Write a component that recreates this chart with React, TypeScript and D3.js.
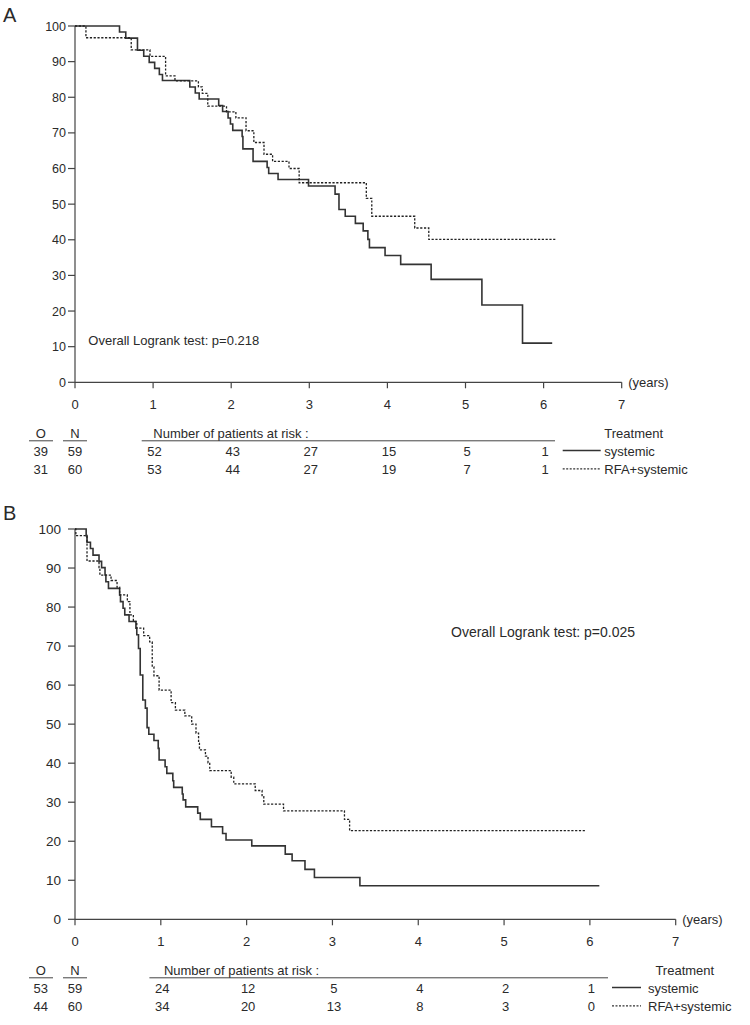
import React from 'react';
import * as d3 from 'd3';

// ---------- data ----------
const yearTicks = [0, 1, 2, 3, 4, 5, 6, 7];
const survivalTicks = [0, 10, 20, 30, 40, 50, 60, 70, 80, 90, 100];
const riskYears = [1, 2, 3, 4, 5, 6];
const groupNames = ['systemic', 'RFA+systemic'];

// Panel A (KM step points: time in years, survival %)
const aSystemicTimes = [0, 0.57, 0.65, 0.80, 0.88, 0.95, 1.02, 1.08, 1.12, 1.47, 1.54, 1.59, 1.84, 1.89, 1.96, 1.99, 2.02, 2.14, 2.15, 2.28, 2.46, 2.48, 2.60, 2.99, 3.33, 3.38, 3.46, 3.59, 3.69, 3.75, 3.77, 3.97, 4.17, 4.56, 5.21, 5.73];
const aSystemicSurv = [100, 98.3, 96.6, 93.2, 91.5, 89.8, 88.1, 86.4, 84.7, 82.9, 81.2, 79.5, 77.7, 76.0, 74.2, 72.5, 70.7, 69.0, 65.5, 62.0, 60.3, 58.6, 56.9, 55.1, 52.8, 48.5, 46.6, 44.6, 42.5, 40.1, 37.8, 35.6, 33.1, 28.9, 21.7, 11.0];
const aSystemicEnd = 6.11;

const aRfaTimes = [0, 0.14, 0.72, 0.96, 1.16, 1.28, 1.58, 1.63, 1.70, 1.94, 2.06, 2.19, 2.29, 2.42, 2.53, 2.74, 2.87, 3.73, 3.80, 4.35, 4.53];
const aRfaSurv = [100, 96.7, 93.3, 91.5, 86.0, 84.6, 82.9, 81.1, 77.5, 75.9, 74.2, 70.6, 67.3, 64.0, 62.0, 60.0, 56.0, 51.6, 46.6, 43.3, 40.1];
const aRfaEnd = 6.15;

// Panel B
const bSystemicTimes = [0, 0.13, 0.14, 0.18, 0.21, 0.28, 0.31, 0.35, 0.36, 0.39, 0.52, 0.53, 0.56, 0.58, 0.63, 0.71, 0.72, 0.74, 0.76, 0.79, 0.82, 0.84, 0.86, 0.92, 0.97, 0.98, 1.05, 1.07, 1.14, 1.15, 1.25, 1.26, 1.29, 1.43, 1.46, 1.59, 1.72, 1.76, 2.06, 2.45, 2.53, 2.68, 2.79, 3.32];
const bSystemicSurv = [100, 98.3, 96.6, 95.0, 93.3, 91.7, 90.1, 88.2, 86.5, 84.8, 83.1, 81.4, 79.7, 78.0, 76.3, 74.6, 72.9, 69.4, 62.6, 56.2, 54.1, 49.1, 47.4, 45.8, 43.8, 40.8, 39.1, 37.4, 35.5, 33.8, 32.1, 30.6, 28.8, 27.2, 25.6, 23.7, 22.0, 20.3, 18.8, 16.7, 15.0, 12.8, 10.7, 8.6];
const bSystemicEnd = 6.11;

const bRfaTimes = [0, 0.01, 0.14, 0.28, 0.29, 0.42, 0.49, 0.52, 0.61, 0.64, 0.68, 0.72, 0.80, 0.87, 0.90, 0.92, 0.98, 1.12, 1.17, 1.28, 1.36, 1.41, 1.44, 1.45, 1.52, 1.55, 1.57, 1.82, 1.85, 2.10, 2.18, 2.20, 2.43, 3.14, 3.20];
const bRfaSurv = [100, 98.3, 91.8, 90.1, 88.2, 86.8, 85.1, 83.1, 81.4, 78.0, 76.3, 74.6, 72.7, 71.1, 64.7, 62.4, 58.7, 55.5, 53.6, 52.1, 50.0, 47.7, 45.1, 43.4, 41.8, 40.1, 38.1, 36.4, 34.7, 33.0, 31.4, 29.5, 27.8, 25.6, 22.7];
const bRfaEnd = 5.95;

// Risk tables
const aObserved = [39, 31];
const aTotal = [59, 60];
const aRiskSystemic = [52, 43, 27, 15, 5, 1];
const aRiskRfa = [53, 44, 27, 19, 7, 1];

const bObserved = [53, 44];
const bTotal = [59, 60];
const bRiskSystemic = [24, 12, 5, 4, 2, 1];
const bRiskRfa = [34, 20, 13, 8, 3, 0];

const pTexts = ['Overall Logrank test: p=0.218', 'Overall Logrank test: p=0.025'];

// ---------- layout ----------
const FONT = "'Liberation Sans', Arial, Helvetica, sans-serif";
const INK = '#2a2a2a';

type Series = { times: number[]; surv: number[]; end: number; dashed: boolean };

type PanelProps = {
  letter: string;
  letterY: number;
  xRange: [number, number];
  yRange: [number, number];
  yLabelX: number;
  yLabelSize: number;
  pText: string;
  pX: number;
  pY: number;
  pSize: number;
  series: Series[];
  observed: number[];
  total: number[];
  risk: number[][];
  ulStart: number;
  ulEnd: number;
  nprX: number;
  legX1: number;
  legX2: number;
  legTextX: number;
  treatX: number;
};

function Panel(p: PanelProps) {
  const x = d3.scaleLinear().domain([0, 7]).range(p.xRange);
  const y = d3.scaleLinear().domain([0, 100]).range(p.yRange);
  const axisY = p.yRange[0];
  const line = d3
    .line<[number, number]>()
    .x((d) => x(d[0]))
    .y((d) => y(d[1]))
    .curve(d3.curveStepAfter);

  const tickLabelY = axisY + 27;
  const headerY = axisY + 56;
  const ulY = axisY + 58.5;
  const rowY = [axisY + 73.7, axisY + 92];

  return (
    <g fontFamily={FONT} fill={INK}>
      <text x={3} y={p.letterY} fontSize={20}>{p.letter}</text>

      {/* y axis */}
      <line x1={x(0)} x2={x(0)} y1={y(0)} y2={y(100)} stroke="#444" strokeWidth={1.2} />
      {survivalTicks.map((t) => (
        <g key={'yt' + t}>
          <line x1={x(0) - 7} x2={x(0)} y1={y(t)} y2={y(t)} stroke="#444" strokeWidth={1.2} />
          <text x={p.yLabelX} y={y(t) + 4.5} fontSize={p.yLabelSize} textAnchor="end">{t}</text>
        </g>
      ))}

      {/* x axis */}
      <line x1={x(0)} x2={x(7)} y1={axisY} y2={axisY} stroke="#444" strokeWidth={1.2} />
      {yearTicks.map((t) => (
        <g key={'xt' + t}>
          <line x1={x(t)} x2={x(t)} y1={axisY} y2={axisY + 6} stroke="#444" strokeWidth={1.2} />
          <text x={x(t)} y={tickLabelY} fontSize={13} textAnchor="middle">{t}</text>
        </g>
      ))}
      <text x={x(7) + 6.5} y={axisY + 5} fontSize={13}>(years)</text>

      {/* curves */}
      {p.series.map((s, i) => {
        const pts: [number, number][] = s.times.map((t, j) => [t, s.surv[j]]);
        pts.push([s.end, s.surv[s.surv.length - 1]]);
        return (
          <path
            key={'c' + i}
            d={line(pts) || ''}
            fill="none"
            stroke={s.dashed ? '#222' : '#333'}
            strokeWidth={s.dashed ? 1.3 : 1.6}
            strokeDasharray={s.dashed ? '2.2,1.6' : undefined}
          />
        );
      })}

      <text x={p.pX} y={p.pY} fontSize={p.pSize}>{p.pText}</text>

      {/* risk table */}
      <text x={40.7} y={headerY} fontSize={13} textAnchor="middle">O</text>
      <line x1={29} x2={53} y1={ulY} y2={ulY} stroke="#444" strokeWidth={1} />
      <text x={75} y={headerY} fontSize={13} textAnchor="middle">N</text>
      <line x1={63} x2={87} y1={ulY} y2={ulY} stroke="#444" strokeWidth={1} />
      <text x={p.nprX} y={headerY} fontSize={13}>Number of patients at risk :</text>
      <line x1={p.ulStart} x2={p.ulEnd} y1={ulY} y2={ulY} stroke="#444" strokeWidth={1} />
      <text x={p.treatX} y={headerY} fontSize={13}>Treatment</text>

      {[0, 1].map((g) => (
        <g key={'row' + g}>
          <text x={40.7} y={rowY[g]} fontSize={13} textAnchor="middle">{p.observed[g]}</text>
          <text x={75} y={rowY[g]} fontSize={13} textAnchor="middle">{p.total[g]}</text>
          {riskYears.map((yr, k) => (
            <text key={'r' + yr} x={x(yr) + 1.5} y={rowY[g]} fontSize={13} textAnchor="middle">
              {p.risk[g][k]}
            </text>
          ))}
          <line
            x1={p.legX1}
            x2={p.legX2}
            y1={rowY[g] - 5.5}
            y2={rowY[g] - 5.5}
            stroke="#333"
            strokeWidth={g === 0 ? 1.5 : 1.2}
            strokeDasharray={g === 1 ? '2,1.5' : undefined}
          />
          <text x={p.legTextX} y={rowY[g]} fontSize={13}>{groupNames[g]}</text>
        </g>
      ))}
    </g>
  );
}

export default function App() {
  return (
    <svg
      width={750}
      height={1025}
      viewBox="0 0 750 1025"
      style={{ position: 'absolute', left: 0, top: 0, background: '#fff' }}
    >
      <rect x={0} y={0} width={750} height={1025} fill="#fff" />
      <Panel
        letter="A"
        letterY={22}
        xRange={[75, 621.7]}
        yRange={[382.3, 26]}
        yLabelX={66}
        yLabelSize={12.5}
        pText={pTexts[0]}
        pX={88.3}
        pY={344.5}
        pSize={13}
        series={[
          { times: aSystemicTimes, surv: aSystemicSurv, end: aSystemicEnd, dashed: false },
          { times: aRfaTimes, surv: aRfaSurv, end: aRfaEnd, dashed: true },
        ]}
        observed={aObserved}
        total={aTotal}
        risk={[aRiskSystemic, aRiskRfa]}
        ulStart={141.7}
        ulEnd={555}
        nprX={153.3}
        legX1={562.7}
        legX2={600.7}
        legTextX={604.3}
        treatX={604.3}
      />
      <Panel
        letter="B"
        letterY={520}
        xRange={[75, 675.7]}
        yRange={[919.3, 529]}
        yLabelX={61}
        yLabelSize={13.5}
        pText={pTexts[1]}
        pX={451}
        pY={637}
        pSize={14}
        series={[
          { times: bSystemicTimes, surv: bSystemicSurv, end: bSystemicEnd, dashed: false },
          { times: bRfaTimes, surv: bRfaSurv, end: bRfaEnd, dashed: true },
        ]}
        observed={bObserved}
        total={bTotal}
        risk={[bRiskSystemic, bRiskRfa]}
        ulStart={149.4}
        ulEnd={608}
        nprX={163.9}
        legX1={612}
        legX2={641}
        legTextX={648}
        treatX={655.4}
      />
    </svg>
  );
}
